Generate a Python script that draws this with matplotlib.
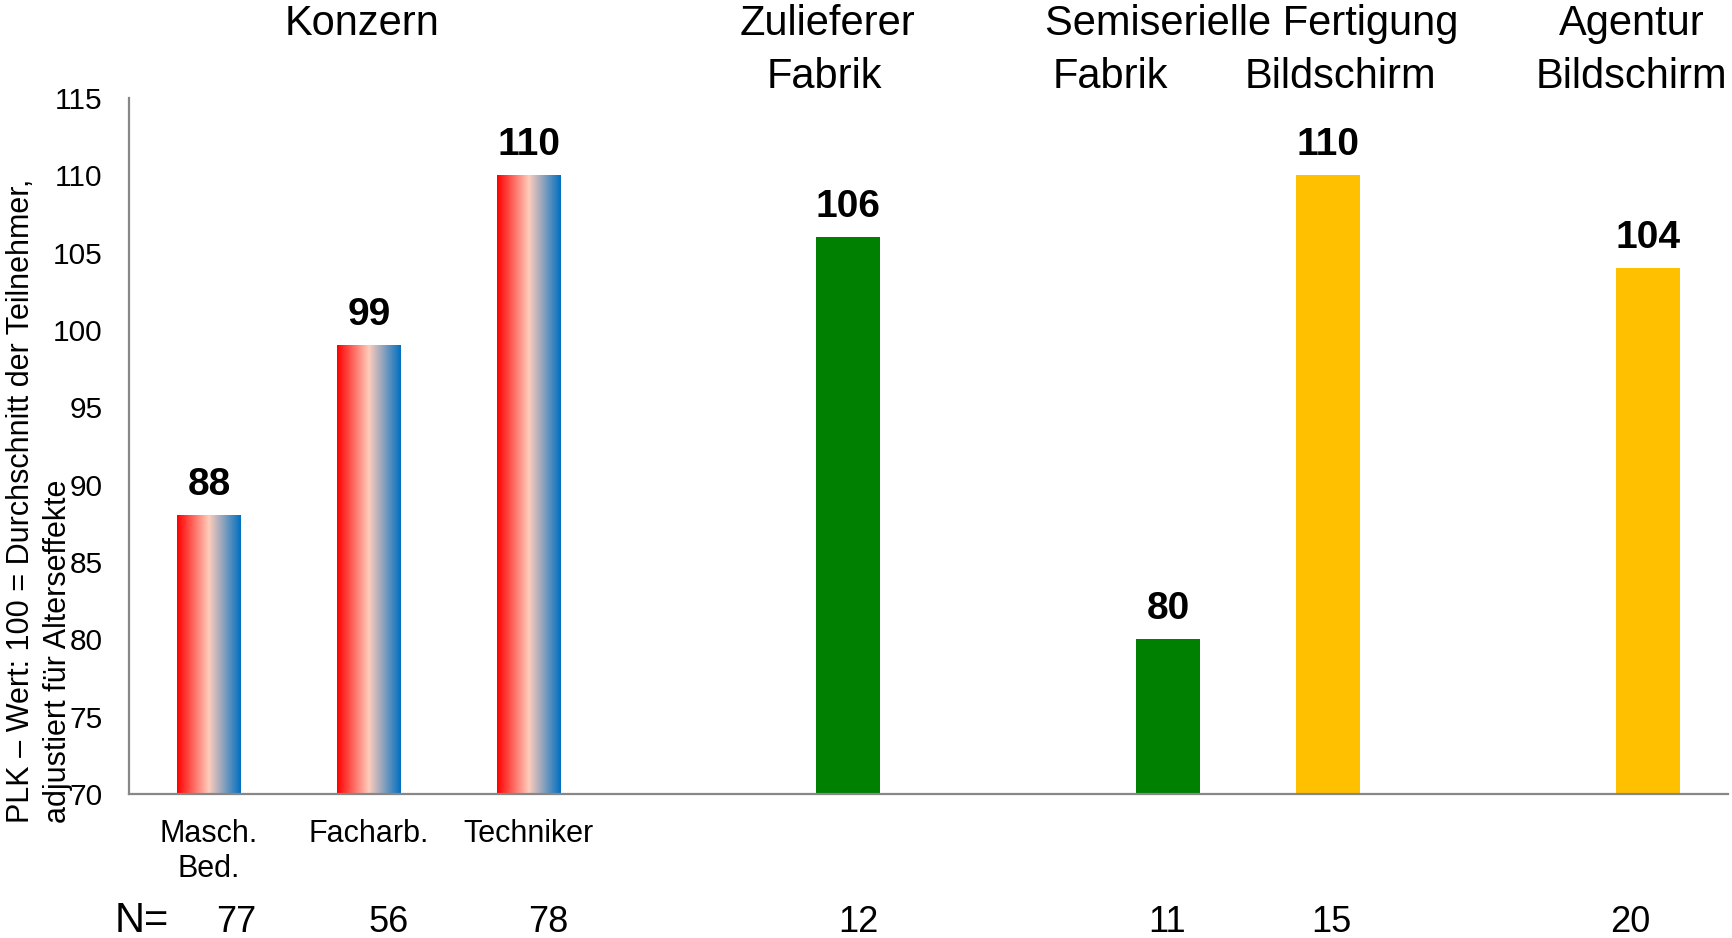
import matplotlib
matplotlib.use("Agg")
import matplotlib.pyplot as plt
from matplotlib.colors import LinearSegmentedColormap
import numpy as np

# daten
Positionen = [0, 1, 2, 4, 6, 7, 9]
Werte = [88, 99, 110, 106, 80, 110, 104]
Kategorien = ["Masch.\nBed.", "Facharb.", "Techniker", "", "", "", ""]
N_Werte = [77, 56, 78, 12, 11, 15, 20]
Farben = ["grad", "grad", "grad", "#008000", "#008000", "#FFC000", "#FFC000"]
# kleine verschiebung der N-zahlen wie im original
N_Versatz = [0.17, 0.125, 0.125, 0.06, -0.01, 0.02, -0.11]

plt.rcParams['font.family'] = ['Liberation Sans', 'DejaVu Sans']

fig = plt.figure(figsize=(17.33, 9.38), dpi=100)
ax = fig.add_axes([0.0744, 0.1535, 0.9226, 0.742])

# verlauf rot -> pfirsich -> blau
verlauf = LinearSegmentedColormap.from_list("konzern", ["#FF0000", "#FFCCBB", "#0070C0"])
gradient = np.linspace(0, 1, 256).reshape(1, -1)

balken = ax.bar(Positionen, Werte, width=0.4, color=[f if f != "grad" else "none" for f in Farben],
                zorder=2)
for b, f in zip(balken, Farben):
    if f == "grad":
        x0 = b.get_x()
        ax.imshow(gradient, cmap=verlauf, aspect='auto', zorder=2,
                  extent=[x0, x0 + b.get_width(), 70, b.get_height()])

ax.bar_label(balken, labels=[str(w) for w in Werte], padding=9,
             fontsize=28, fontweight='bold')

ax.set_xlim(-0.5, 9.5)
ax.set_ylim(70, 115)
ax.set_yticks(np.arange(70, 116, 5))
ax.tick_params(axis='y', length=0, pad=19, labelsize=21.5)
ax.set_xticks(Positionen)
ax.set_xticklabels(Kategorien, fontsize=22)
ax.tick_params(axis='x', length=0, pad=18)

for s in ['top', 'right']:
    ax.spines[s].set_visible(False)
for s in ['left', 'bottom']:
    ax.spines[s].set_color('#878787')
    ax.spines[s].set_linewidth(1.6)

# kopfzeilen
tr = ax.get_xaxis_transform()
oben = 1.0905
unten = 1.0144
ax.text(0.96, oben, "Konzern", transform=tr, ha='center', va='baseline', fontsize=30)
ax.text(3.87, oben, "Zulieferer", transform=tr, ha='center', va='baseline', fontsize=30)
ax.text(3.85, unten, "Fabrik", transform=tr, ha='center', va='baseline', fontsize=30)
ax.text(6.52, oben, "Semiserielle Fertigung", transform=tr, ha='center', va='baseline', fontsize=30)
ax.text(5.64, unten, "Fabrik", transform=tr, ha='center', va='baseline', fontsize=30)
ax.text(7.08, unten, "Bildschirm", transform=tr, ha='center', va='baseline', fontsize=30)
ax.text(8.9, oben, "Agentur", transform=tr, ha='center', va='baseline', fontsize=30)
ax.text(8.9, unten, "Bildschirm", transform=tr, ha='center', va='baseline', fontsize=30)

# N zeile
ax.text(-0.42, -0.1985, "N=", transform=tr, ha='center', va='baseline', fontsize=30)
for p, n, v in zip(Positionen, N_Werte, N_Versatz):
    ax.text(p + v, -0.1985, str(n), transform=tr, ha='center', va='baseline', fontsize=26)

# y-achsenbeschriftung
fig.text(0.0035, 0.1226, "PLK – Wert: 100 = Durchschnitt der Teilnehmer,\nadjustiert für Alterseffekte",
         rotation=90, ha='left', va='bottom', multialignment='left', fontsize=22, linespacing=1.28)

fig.savefig("out.png", dpi=100)
